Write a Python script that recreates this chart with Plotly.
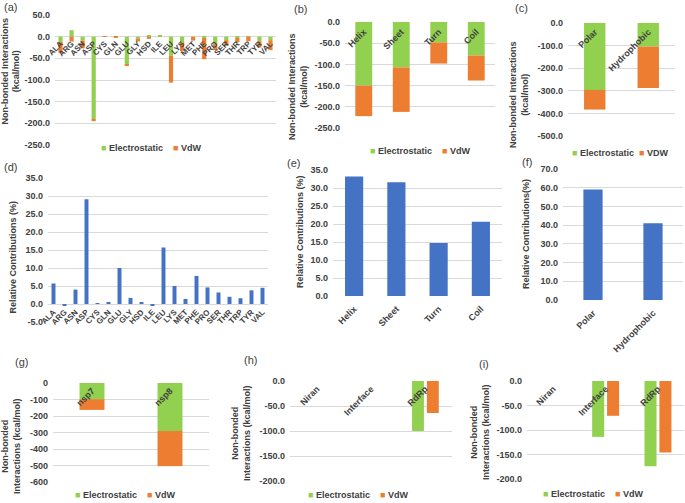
import plotly.graph_objects as go

W, H = 685, 503
GREEN = "#92D050"
ORANGE = "#ED7D31"
BLUE = "#4472C4"
GRID = "#D9D9D9"
TXT = "#404040"
FONT = "Liberation Sans, Arial, sans-serif"

# ---------------- data ----------------
residues = ["ALA", "ARG", "ASN", "ASP", "CYS", "GLN", "GLU", "GLY", "HSD", "ILE",
            "LEU", "LYS", "MET", "PHE", "PRO", "SER", "THR", "TRP", "TYR", "VAL"]
res_elec = [-12, 15, -9, -190, -0.2, 0, -65, -5, 2.5, 2, -44, -13, 0, -3, -17, -8, -3, -0.5, -11, -8]
res_vdw = [-26, -11.5, -18, -5, -0.5, -2, -2, -6, -5, 0, -62, -20, -9, -49, -14, -13, -10, -10, -14, -23]
res_contrib = [5.7, -0.5, 4.0, 29.1, 0.1, 0.3, 10.0, 1.7, 0.4, -0.3,
               15.7, 5.0, 1.4, 7.8, 4.6, 3.2, 2.0, 1.6, 3.8, 4.5]

ss_cats = ["Helix", "Sheet", "Turn", "Coil"]
ss_elec = [-150, -107, -48, -79]
ss_vdw = [-72, -105, -50, -59]
ss_contrib = [33.2, 31.6, 14.7, 20.6]

pol_cats = ["Polar", "Hydrophobic"]
pol_elec = [-296, -104]
pol_vdw = [-87, -184]
pol_contrib = [59.0, 41.0]

nsp_cats = ["nsp7", "nsp8"]
nsp_elec = [-98, -291]
nsp_vdw = [-65, -213]

site_cats = ["Niran", "Interface", "RdRp"]
h_elec = [0, 0, -100]
h_vdw = [0, 0, -64]
i_elec = [0, -114, -174]
i_vdw = [0, -71, -146]

ticks_a = [50, 0, -50, -100, -150, -200, -250]
ticks_b = [0, -50, -100, -150, -200, -250]
ticks_c = [0, -100, -200, -300, -400, -500]
ticks_d = [35, 30, 25, 20, 15, 10, 5, 0, -5]
ticks_e = [35, 30, 25, 20, 15, 10, 5, 0]
ticks_f = [70, 60, 50, 40, 30, 20, 10, 0]
ticks_g = [0, -100, -200, -300, -400, -500, -600]
ticks_hi = [0, -50, -100, -150, -200]


def stack_base(first, second):
    return [f if (f < 0 and s < 0) or (f > 0 and s > 0) else 0 for f, s in zip(first, second)]


fig = go.Figure()

panels = [
    dict(name="a", box=(55, 276, 15, 145), yr=(-250, 50), ticks=ticks_a, fmt="{:.1f}", cats=residues, so=0, xs=8),
    dict(name="b", box=(345, 495, 22, 128), yr=(-250, 0), ticks=ticks_b, fmt="{:.1f}", cats=ss_cats, so=2, xs=9),
    dict(name="c", box=(568, 675, 23, 136), yr=(-500, 0), ticks=ticks_c, fmt="{:.1f}", cats=pol_cats, so=1, xs=9),
    dict(name="d", box=(48, 268, 178, 322), yr=(-5, 35), ticks=ticks_d, fmt="{:.1f}", cats=residues, so=1, xs=8),
    dict(name="e", box=(333, 502, 170, 296), yr=(0, 35), ticks=ticks_e, fmt="{:.1f}", cats=ss_cats, so=5, xs=9),
    dict(name="f", box=(563, 683, 169, 300), yr=(0, 70), ticks=ticks_f, fmt="{:.1f}", cats=pol_cats, so=5, xs=9),
    dict(name="g", box=(53, 209, 383, 482), yr=(-600, 0), ticks=ticks_g, fmt="{:.0f}", cats=nsp_cats, so=0, xs=9),
    dict(name="h", box=(290, 452, 381, 481), yr=(-200, 0), ticks=ticks_hi, fmt="{:.1f}", cats=site_cats, so=0, xs=9),
    dict(name="i", box=(527, 684, 381, 479), yr=(-200, 0), ticks=ticks_hi, fmt="{:.1f}", cats=site_cats, so=0, xs=9),
]

layout_axes = {}
for k, p in enumerate(panels):
    n = k + 1
    xid = "x" if n == 1 else f"x{n}"
    yid = "y" if n == 1 else f"y{n}"
    p["xid"], p["yid"] = xid, yid
    x0, x1, yt, yb = p["box"]
    ymin, ymax = p["yr"]
    zero_px = yt + (ymax - 0) / (ymax - ymin) * (yb - yt)
    layout_axes["xaxis" if n == 1 else f"xaxis{n}"] = dict(
        domain=[x0 / W, x1 / W], anchor="free", position=1 - zero_px / H,
        range=[-0.5, len(p["cats"]) - 0.5], type="category",
        tickmode="array", tickvals=p["cats"], ticktext=p["cats"],
        showgrid=False, zeroline=False, showline=False, ticks="",
        tickangle=-45, ticklabelstandoff=p["so"], automargin=False,
        tickfont=dict(family=FONT, size=p["xs"], color=TXT, weight="bold"),
        fixedrange=True,
    )
    layout_axes["yaxis" if n == 1 else f"yaxis{n}"] = dict(
        domain=[1 - yb / H, 1 - yt / H], anchor=xid,
        range=[ymin, ymax], tickmode="array", tickvals=p["ticks"],
        ticktext=[p["fmt"].format(v) for v in p["ticks"]],
        showgrid=True, gridcolor=GRID, gridwidth=1, zeroline=False, showline=False, ticks="",
        ticklabelstandoff=4, automargin=False,
        tickfont=dict(family=FONT, size=9, color=TXT, weight="bold"),
        fixedrange=True,
    )

P = {p["name"]: p for p in panels}


def stacked(p, cats, elec, vdw, width):
    fig.add_trace(go.Bar(x=cats, y=elec, width=width, marker=dict(color=GREEN, line=dict(width=0)),
                         xaxis=p["xid"], yaxis=p["yid"], showlegend=False, name="Electrostatic"))
    fig.add_trace(go.Bar(x=cats, y=vdw, base=stack_base(elec, vdw), width=width,
                         marker=dict(color=ORANGE, line=dict(width=0)),
                         xaxis=p["xid"], yaxis=p["yid"], showlegend=False, name="VdW"))


def grouped(p, cats, elec, vdw, width, off_e, off_v):
    fig.add_trace(go.Bar(x=cats, y=elec, width=width, offset=off_e, marker=dict(color=GREEN, line=dict(width=0)),
                         xaxis=p["xid"], yaxis=p["yid"], showlegend=False, name="Electrostatic"))
    fig.add_trace(go.Bar(x=cats, y=vdw, width=width, offset=off_v, marker=dict(color=ORANGE, line=dict(width=0)),
                         xaxis=p["xid"], yaxis=p["yid"], showlegend=False, name="VdW"))


def single(p, cats, vals, width):
    fig.add_trace(go.Bar(x=cats, y=vals, width=width, marker=dict(color=BLUE, line=dict(width=0)),
                         xaxis=p["xid"], yaxis=p["yid"], showlegend=False, name="Relative Contributions"))


stacked(P["a"], residues, res_elec, res_vdw, 0.38)
stacked(P["b"], ss_cats, ss_elec, ss_vdw, 0.45)
stacked(P["c"], pol_cats, pol_elec, pol_vdw, 0.4)
single(P["d"], residues, res_contrib, 0.36)
single(P["e"], ss_cats, ss_contrib, 0.43)
single(P["f"], pol_cats, pol_contrib, 0.32)
stacked(P["g"], nsp_cats, nsp_elec, nsp_vdw, 0.32)
grouped(P["h"], site_cats, h_elec, h_vdw, 0.22, -0.24, 0.035)
grouped(P["i"], site_cats, i_elec, i_vdw, 0.23, -0.255, 0.03)

ann = []


def add_text(x, y, text, size=9, angle=0, xanchor="center", bold=True):
    ann.append(dict(x=x / W, y=1 - y / H, xref="paper", yref="paper", text=text, showarrow=False,
                    textangle=angle, xanchor=xanchor, yanchor="middle",
                    font=dict(family=FONT, size=size, color=TXT, weight="bold" if bold else "normal")))


for lab, x, y in [("(a)", 2, 7), ("(b)", 292, 9.5), ("(c)", 513, 7.5), ("(d)", 2, 167), ("(e)", 285, 163),
                  ("(f)", 520, 162), ("(g)", 13, 362), ("(h)", 242, 360), ("(i)", 477, 364)]:
    add_text(x, y, lab, size=11, xanchor="left", bold=False)

add_text(10.5, 71, "Non-bonded Interactions<br>(kcal/mol)", angle=-90)
add_text(298, 87, "Non-bonded Interactions<br>(kcal/mol)", angle=-90)
add_text(519, 95, "Non-bonded Interactions<br>(kcal/mol)", angle=-90)
add_text(12.5, 257, "Relative Contributions (%)", angle=-90)
add_text(300, 232, "Relative Contributions (%)", angle=-90)
add_text(526, 234, "Relative Contributions(%)", angle=-90)
add_text(11, 446, "Non-bonded<br>Interactions (kcal/mol)", angle=-90)
add_text(241, 433, "Non-bonded<br>Interactions (kcal/mol)", angle=-90)
add_text(480, 432, "Non-bonded<br>Interactions (kcal/mol)", angle=-90)

NB = "\u00a0"


def legend(x, y, vdw_label, gap):
    txt = (f"<span style='color:{GREEN}'>■</span>{NB}Electrostatic" + NB * gap +
           f"<span style='color:{ORANGE}'>■</span>{NB}{vdw_label}")
    add_text(x, y, txt, size=9, xanchor="left")


legend(99, 148, "VdW", 4)
legend(368, 151, "VdW", 4)
legend(570, 153, "VDW", 2)
legend(73, 495, "VdW", 4)
legend(306, 495, "VdW", 4)
legend(541, 494, "VdW", 4)

fig.update_layout(
    template="none",
    width=W, height=H, margin=dict(l=0, r=0, t=0, b=0, autoexpand=False),
    paper_bgcolor="white", plot_bgcolor="white",
    barmode="overlay", showlegend=False,
    font=dict(family=FONT, color=TXT),
    annotations=ann, **layout_axes,
)

fig.write_html("out.html", config={"displayModeBar": False},
               post_script="document.body.style.margin='0px';document.body.style.overflow='hidden';")
